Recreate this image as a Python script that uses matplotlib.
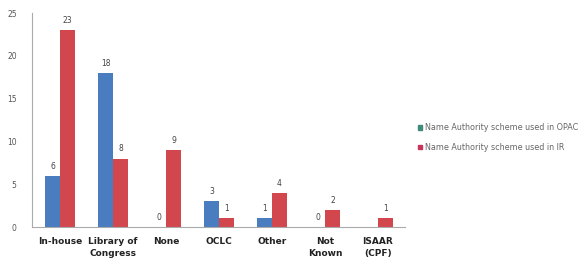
import matplotlib.pyplot as plt
import numpy as np
from matplotlib.patches import Patch

# Categories and counts
categories = ['In-house', 'Library of\nCongress', 'None', 'OCLC', 'Other', 'Not\nKnown', 'ISAAR\n(CPF)']
opac = [6, 18, 0, 3, 1, 0, np.nan]
ir = [23, 8, 9, 1, 4, 2, 1]
yticks = [0, 5, 10, 15, 20, 25]

blue = '#4a7cc0'
red = '#d2474d'

fig = plt.figure(figsize=(5.86, 2.66), dpi=100)
ax = fig.add_axes([0.0546, 0.1466, 0.6365, 0.8044])

x = np.arange(len(categories))
w = 0.28
ax.bar(x - w/2, opac, w, color=blue)
ax.bar(x + w/2, ir, w, color=red)

for xi, v in zip(x, opac):
    if not np.isnan(v):
        ax.text(xi - w/2, v + 0.6, f'{int(v)}', ha='center', va='bottom', fontsize=5.5, color='#444444')
for xi, v in zip(x, ir):
    ax.text(xi + w/2, v + 0.6, f'{int(v)}', ha='center', va='bottom', fontsize=5.5, color='#444444')

ax.set_xlim(-0.53, 6.51)
ax.set_ylim(0, 25)
ax.set_yticks(yticks)
ax.set_yticklabels([str(t) for t in yticks], fontsize=5.5, color='#555555')
ax.set_xticks(x)
ax.set_xticklabels(categories, fontsize=6.5, fontweight='bold', color='#222222', linespacing=1.4)
ax.tick_params(length=0, pad=11, axis='y')
ax.tick_params(length=0, pad=7, axis='x')
for s in ['top', 'right']:
    ax.spines[s].set_visible(False)
for s in ['left', 'bottom']:
    ax.spines[s].set_color('#aaaaaa')
    ax.spines[s].set_linewidth(0.8)

# legend (square markers in slightly different tones as in the picture)
handles = [Patch(color='#3f8a78'), Patch(color='#c9345a')]
fig.legend(handles, ['Name Authority scheme used in OPAC', 'Name Authority scheme used in IR'],
           loc='upper left', bbox_to_anchor=(0.709, 0.545), frameon=False, fontsize=5.8,
           handlelength=0.5, handleheight=0.5, handletextpad=0.4, labelspacing=1.3,
           labelcolor='#666666', borderaxespad=0, borderpad=0.3)

fig.savefig('out.png', dpi=100)
